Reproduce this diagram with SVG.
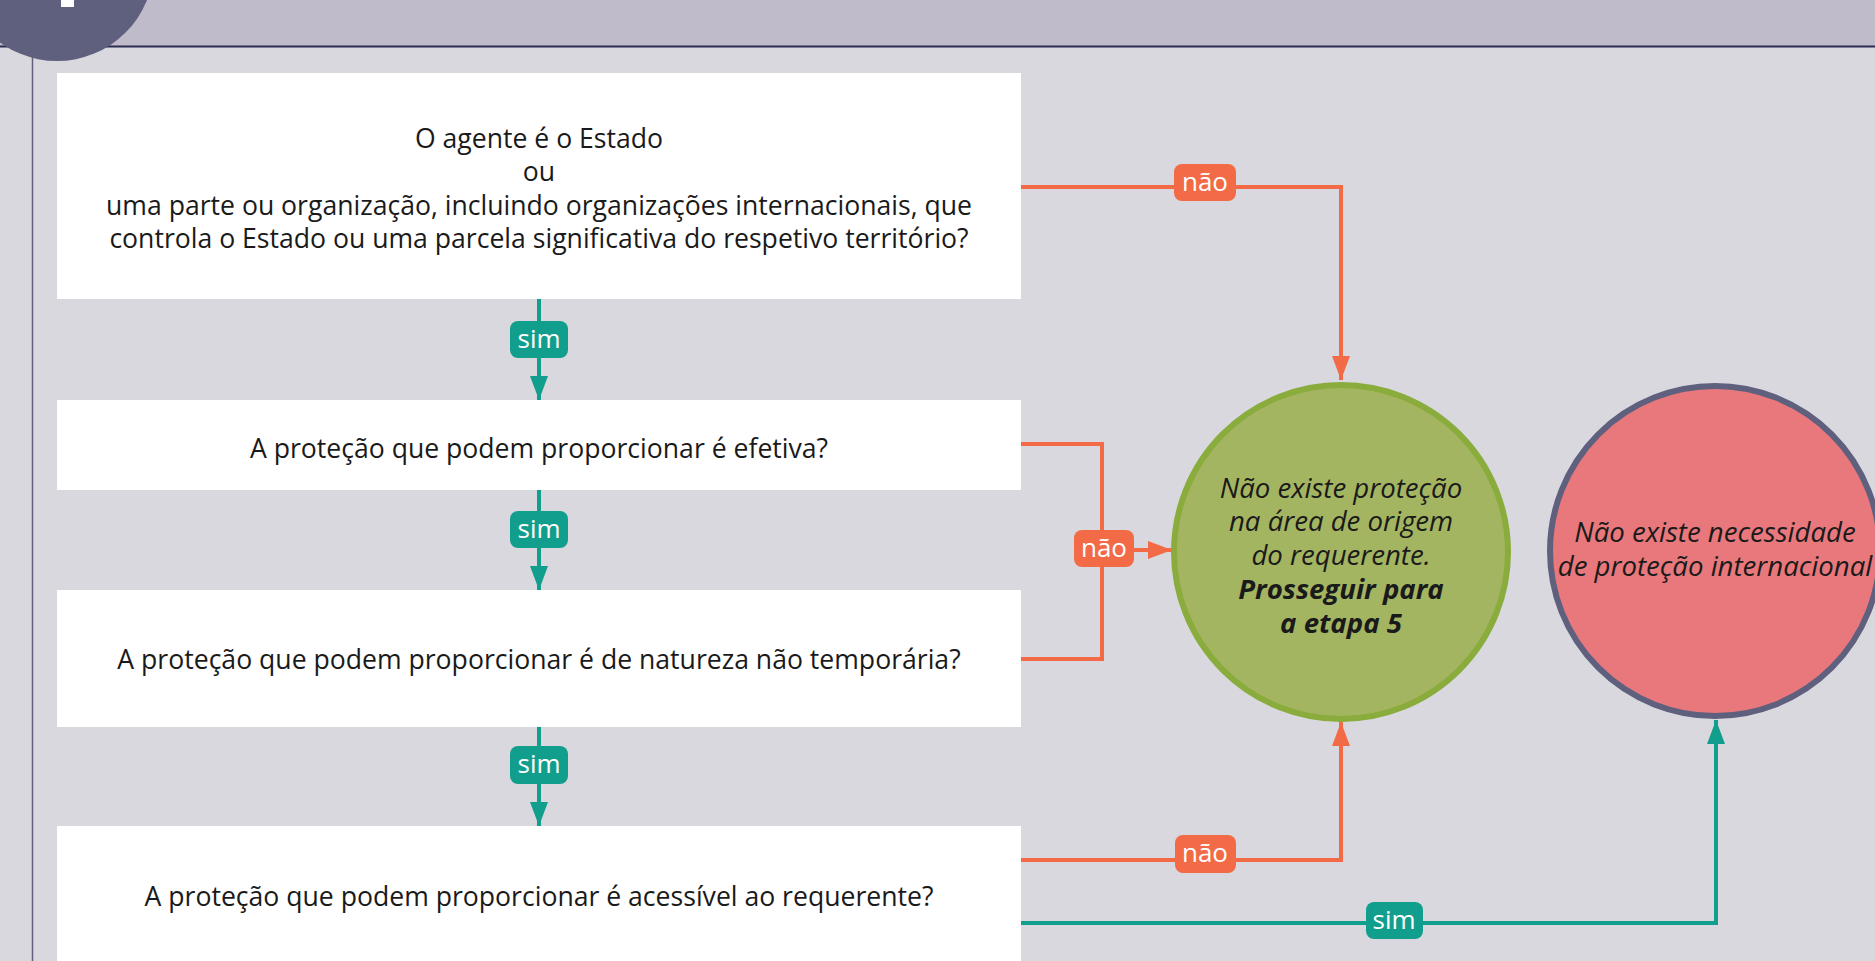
<svg xmlns="http://www.w3.org/2000/svg" width="1875" height="961" viewBox="0 0 1875 961">
<defs>
<style>
.box{fill:#ffffff}
.q{font-family:"Open Sans","Noto Sans","Liberation Sans",sans-serif;font-size:26.6px;fill:#1a1a1a;text-anchor:middle}
.ci{font-family:"Open Sans","Noto Sans","Liberation Sans",sans-serif;font-size:27.6px;font-style:italic;fill:#1a1a1a;text-anchor:middle}
.b{font-weight:bold}
.lbl{font-family:"Open Sans","Noto Sans","Liberation Sans",sans-serif;font-size:26px;fill:#ffffff;text-anchor:middle}
.o{stroke:#f26b46;stroke-width:4;fill:none}
.t{stroke:#129e8c;stroke-width:4;fill:none}
.lo{fill:#f26b46}
.lt{fill:#129e8c}
</style>
<marker id="ao" viewBox="0 0 24 18" refX="24" refY="9" markerWidth="24" markerHeight="18" markerUnits="userSpaceOnUse" orient="auto"><path d="M0,0 L24,9 L0,18 z" fill="#f26b46"/></marker>
<marker id="at" viewBox="0 0 24 18" refX="24" refY="9" markerWidth="24" markerHeight="18" markerUnits="userSpaceOnUse" orient="auto"><path d="M0,0 L24,9 L0,18 z" fill="#129e8c"/></marker>
</defs>
<rect x="0" y="0" width="1875" height="961" fill="#d9d8df"/>
<rect x="0" y="0" width="1875" height="46" fill="#bfbbca"/>
<line x1="0" y1="46.5" x2="1875" y2="46.5" stroke="#2b2a50" stroke-width="2"/>
<line x1="32.5" y1="46" x2="32.5" y2="961" stroke="#5f607e" stroke-width="1.5"/>
<g id="badge">
<circle cx="57" cy="-36" r="97" fill="#5f607e"/>
<rect x="61" y="0" width="13" height="7" fill="#ffffff"/>
</g>
<g id="connectors">
<line class="t" x1="539" y1="299" x2="539" y2="400" marker-end="url(#at)"/>
<line class="t" x1="539" y1="490" x2="539" y2="590" marker-end="url(#at)"/>
<line class="t" x1="539" y1="727" x2="539" y2="826" marker-end="url(#at)"/>
<polyline class="o" points="1021,187 1341,187 1341,380" marker-end="url(#ao)"/>
<polyline class="o" points="1021,444 1102,444 1102,659 1021,659"/>
<line class="o" x1="1134" y1="550" x2="1172" y2="550" marker-end="url(#ao)"/>
<polyline class="o" points="1021,860 1341,860 1341,722" marker-end="url(#ao)"/>
<polyline class="t" points="1021,923 1716,923 1716,720" marker-end="url(#at)"/>
<rect class="lt" x="510" y="321" width="58" height="37" rx="8"/>
<text class="lbl" x="539" y="348">sim</text>
<rect class="lt" x="510" y="511" width="58" height="37" rx="8"/>
<text class="lbl" x="539" y="538">sim</text>
<rect class="lt" x="510" y="746" width="58" height="38" rx="8"/>
<text class="lbl" x="539" y="773">sim</text>
<rect class="lo" x="1174" y="164" width="62" height="37" rx="8"/>
<text class="lbl" x="1205" y="191">não</text>
<rect class="lo" x="1074" y="530" width="60" height="37" rx="8"/>
<text class="lbl" x="1104" y="557">não</text>
<rect class="lo" x="1175" y="835" width="61" height="38" rx="8"/>
<text class="lbl" x="1205" y="862">não</text>
<rect class="lt" x="1366" y="902" width="57" height="37" rx="8"/>
<text class="lbl" x="1394" y="929">sim</text>
</g>
<g id="q1">
<rect class="box" x="57" y="73" width="964" height="226"/>
<text class="q" x="539" y="148">O agente é o Estado</text>
<text class="q" x="539" y="181">ou</text>
<text class="q" x="539" y="215">uma parte ou organização, incluindo organizações internacionais, que</text>
<text class="q" x="539" y="248">controla o Estado ou uma parcela significativa do respetivo território?</text>
</g>
<g id="q2">
<rect class="box" x="57" y="400" width="964" height="90"/>
<text class="q" x="539" y="458">A proteção que podem proporcionar é efetiva?</text>
</g>
<g id="q3">
<rect class="box" x="57" y="590" width="964" height="137"/>
<text class="q" x="539" y="669">A proteção que podem proporcionar é de natureza não temporária?</text>
</g>
<g id="q4">
<rect class="box" x="57" y="826" width="964" height="135"/>
<text class="q" x="539" y="906">A proteção que podem proporcionar é acessível ao requerente?</text>
</g>
<g id="green">
<circle cx="1341" cy="552" r="167" fill="#a4b562" stroke="#8aac3c" stroke-width="6"/>
<text class="ci" x="1341" y="498">Não existe proteção</text>
<text class="ci" x="1341" y="531">na área de origem</text>
<text class="ci" x="1341" y="565">do requerente.</text>
<text class="ci b" x="1341" y="599">Prosseguir para</text>
<text class="ci b" x="1341" y="633">a etapa 5</text>
</g>
<g id="red">
<circle cx="1715" cy="551" r="165" fill="#e8787c" stroke="#5f607e" stroke-width="6"/>
<text class="ci" x="1715" y="542">Não existe necessidade</text>
<text class="ci" x="1715" y="576">de proteção internacional</text>
</g>
</svg>
